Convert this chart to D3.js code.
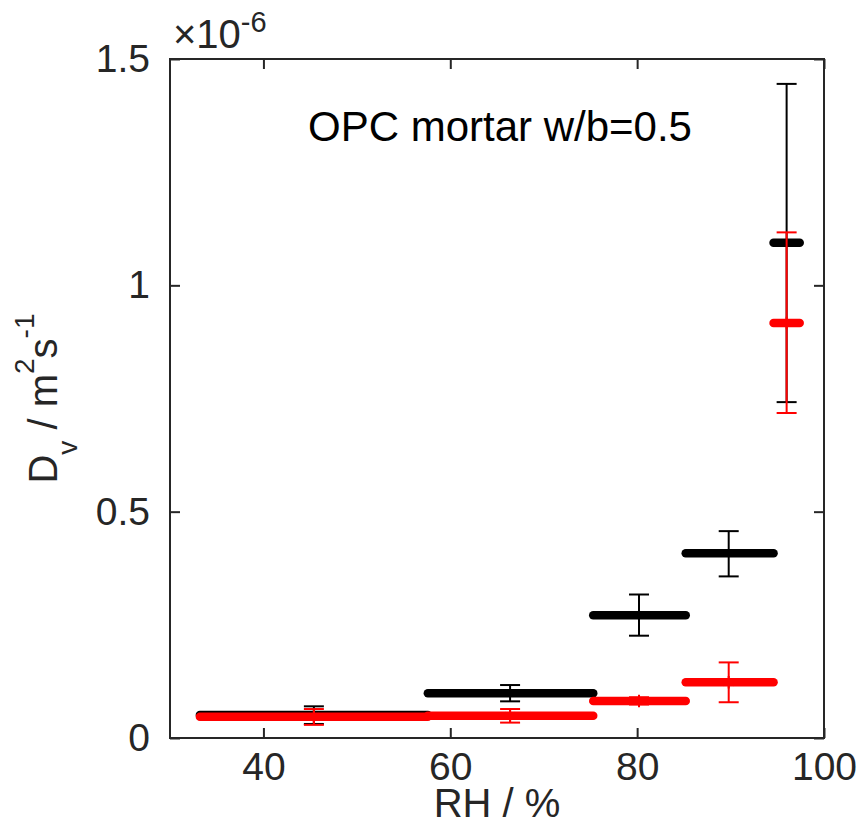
<!DOCTYPE html>
<html>
<head>
<meta charset="utf-8">
<script src="https://cdn.jsdelivr.net/npm/d3@7"></script>
<style>
  body { margin: 0; background: #fff; }
  svg { display: block; }
  text { font-family: "Liberation Sans", Arial, Helvetica, sans-serif; }
</style>
</head>
<body>
<div id="chart"></div>
<script>

// RH intervals of each cup test and their midpoints (%)
var rhLow  = [33.2, 57.6, 75.3, 85.2, 94.6];
var rhHigh = [57.6, 75.3, 85.2, 94.6, 97.4];
var rhMid  = [45.4, 66.4, 80.2, 89.8, 96.0];

// Dv in units of 1e-6 m2/s, black series
var blackVal = [0.051, 0.099, 0.271, 0.408, 1.094];
var blackLo  = [0.031, 0.081, 0.226, 0.357, 0.742];
var blackHi  = [0.070, 0.117, 0.317, 0.457, 1.445];

// red series
var redVal = [0.047, 0.049, 0.082, 0.123, 0.917];
var redLo  = [0.029, 0.034, 0.074, 0.079, 0.718];
var redHi  = [0.064, 0.064, 0.090, 0.167, 1.117];

var xTicks = [40, 60, 80, 100];
var yTicks = [0, 0.5, 1, 1.5];
var yTickLabels = ["0", "0.5", "1", "1.5"];

var W = 861, H = 824;
var margin = {top: 59, right: 37, bottom: 86, left: 170};
var width = W - margin.left - margin.right,
    height = H - margin.top - margin.bottom;
var axisColor = "#262626";

var svg = d3.select("#chart").append("svg")
    .attr("width", W)
    .attr("height", H);

var g = svg.append("g")
    .attr("transform", "translate(" + margin.left + "," + margin.top + ")");

var x = d3.scaleLinear().domain([30, 100]).range([0, width]);
var y = d3.scaleLinear().domain([0, 1.5]).range([height, 0]);

// axes, ticks pointing inward on all four sides
function styleAxis(sel) {
    sel.select(".domain").remove();
    sel.selectAll(".tick line").attr("stroke", axisColor).attr("stroke-width", 2);
    sel.selectAll(".tick text")
        .attr("fill", axisColor)
        .style("font-size", "39px")
        .style("font-family", "'Liberation Sans', Arial, sans-serif");
}

g.append("g")
    .attr("transform", "translate(0," + height + ")")
    .call(d3.axisBottom(x).tickValues(xTicks).tickSizeInner(-10).tickSizeOuter(0).tickPadding(14))
    .call(styleAxis);

g.append("g")
    .call(d3.axisTop(x).tickValues(xTicks).tickSizeInner(-10).tickSizeOuter(0).tickFormat(""))
    .call(styleAxis);

g.append("g")
    .call(d3.axisLeft(y).tickValues(yTicks).tickSizeInner(-10).tickSizeOuter(0).tickPadding(20)
        .tickFormat(function(d, i) { return yTickLabels[i]; }))
    .call(styleAxis);

g.append("g")
    .attr("transform", "translate(" + width + ",0)")
    .call(d3.axisRight(y).tickValues(yTicks).tickSizeInner(-10).tickSizeOuter(0).tickFormat(""))
    .call(styleAxis);

g.append("rect")
    .attr("width", width)
    .attr("height", height)
    .attr("fill", "none")
    .attr("stroke", axisColor)
    .attr("stroke-width", 2);

// one series: horizontal RH bars, vertical error bars, marker
function drawSeries(vals, lo, hi, color, marker) {
    var s = g.append("g");
    var capW = 10;

    s.selectAll("line.bar").data(vals).enter().append("line")
        .attr("class", "bar")
        .attr("x1", function(d, i) { return x(rhLow[i]); })
        .attr("x2", function(d, i) { return x(rhHigh[i]); })
        .attr("y1", function(d) { return y(d); })
        .attr("y2", function(d) { return y(d); })
        .attr("stroke", color)
        .attr("stroke-width", 8.5)
        .attr("stroke-linecap", "round");

    var eb = s.selectAll("g.err").data(vals).enter().append("g").attr("class", "err")
        .attr("stroke", color).attr("stroke-width", 2);

    eb.append("line")
        .attr("x1", function(d, i) { return x(rhMid[i]); })
        .attr("x2", function(d, i) { return x(rhMid[i]); })
        .attr("y1", function(d, i) { return y(lo[i]); })
        .attr("y2", function(d, i) { return y(hi[i]); });
    eb.append("line")
        .attr("x1", function(d, i) { return x(rhMid[i]) - capW; })
        .attr("x2", function(d, i) { return x(rhMid[i]) + capW; })
        .attr("y1", function(d, i) { return y(lo[i]); })
        .attr("y2", function(d, i) { return y(lo[i]); });
    eb.append("line")
        .attr("x1", function(d, i) { return x(rhMid[i]) - capW; })
        .attr("x2", function(d, i) { return x(rhMid[i]) + capW; })
        .attr("y1", function(d, i) { return y(hi[i]); })
        .attr("y2", function(d, i) { return y(hi[i]); });

    if (marker === "dot") {
        s.selectAll("circle").data(vals).enter().append("circle")
            .attr("cx", function(d, i) { return x(rhMid[i]); })
            .attr("cy", function(d) { return y(d); })
            .attr("r", 3.5)
            .attr("fill", color);
    } else {
        var star = d3.symbol().type(d3.symbolAsterisk).size(110);
        s.selectAll("path.star").data(vals).enter().append("path")
            .attr("class", "star")
            .attr("d", star)
            .attr("transform", function(d, i) {
                return "translate(" + x(rhMid[i]) + "," + y(d) + ")";
            })
            .attr("fill", "none")
            .attr("stroke", color)
            .attr("stroke-width", 2);
    }
}

drawSeries(blackVal, blackLo, blackHi, "#000000", "dot");
drawSeries(redVal, redLo, redHi, "#ff0000", "star");

// annotation
svg.append("text")
    .attr("x", 308)
    .attr("y", 141)
    .attr("fill", "#000")
    .style("font-size", "42px")
    .text("OPC mortar w/b=0.5");

// exponent of the y axis
var ex = svg.append("text")
    .attr("x", 173)
    .attr("y", 48)
    .attr("fill", axisColor)
    .style("font-size", "40px");
ex.append("tspan").text("\u00d710");
ex.append("tspan").attr("dy", -16).style("font-size", "29px").text("-6");

// x label
svg.append("text")
    .attr("x", margin.left + width / 2)
    .attr("y", 817)
    .attr("text-anchor", "middle")
    .attr("fill", axisColor)
    .style("font-size", "40px")
    .text("RH / %");

// y label
var yl = svg.append("text")
    .attr("transform", "translate(57," + (margin.top + height / 2) + ") rotate(-90)")
    .attr("text-anchor", "middle")
    .attr("fill", axisColor)
    .style("font-size", "40px");
yl.append("tspan").text("D");
yl.append("tspan").attr("dy", 20).style("font-size", "28px").text("v");
yl.append("tspan").attr("dy", -20).text(" / m");
yl.append("tspan").attr("dy", -23).style("font-size", "28px").text("2");
yl.append("tspan").attr("dy", 23).text("s");
yl.append("tspan").attr("dy", -23).style("font-size", "28px").text("-1");

</script>
</body>
</html>
